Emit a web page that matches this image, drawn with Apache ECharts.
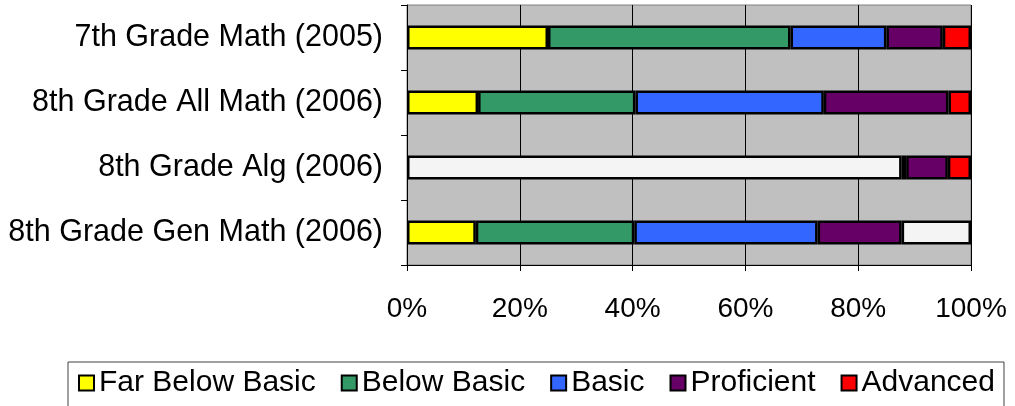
<!DOCTYPE html>
<html lang="en">
<head>
    <meta charset="UTF-8">
    <title>Math results</title>
    <script src="https://cdn.jsdelivr.net/npm/echarts@6/dist/echarts.min.js"></script>
    <style>
        html, body { margin: 0; padding: 0; background: #fff; }
        #main { width: 1015px; height: 406px; }
    </style>
</head>
<body>
<div id="main"></div>
<script>
    var categories = ['7th Grade Math (2005)', '8th Grade All Math (2006)', '8th Grade Alg (2006)', '8th Grade Gen Math (2006)'];
    var tickLabels = ['0%', '20%', '40%', '60%', '80%', '100%'];

    // percent of students per level, null = no segment
    var blankFirst = [null, null, 87.7, null];
    var farBelowBasic = [25, 12.6, null, 12.2];
    var belowBasic = [43, 27.9, null, 28.1];
    var basic = [17, 33.4, 0.8, 32.5];
    var proficient = [10, 22.1, 7.4, 14.9];
    var advanced = [5, 4.0, 4.1, null];
    var blankLast = [null, null, null, 12.3];

    var levels = ['Far Below Basic', 'Below Basic', 'Basic', 'Proficient', 'Advanced'];
    var colors = ['#FFFF00', '#339966', '#3366FF', '#660066', '#FF0000'];
    var values = [farBelowBasic, belowBasic, basic, proficient, advanced];

    function seg(name, data, color) {
        return {
            name: name,
            type: 'bar',
            stack: 'all',
            barWidth: 24,
            data: data,
            itemStyle: { color: color, borderColor: '#000', borderWidth: 2.5 },
            emphasis: { disabled: true }
        };
    }

    var series = [seg('blank1', blankFirst, '#F4F4F4')];
    for (var i = 0; i < levels.length; i++) {
        series.push(seg(levels[i], values[i], colors[i]));
    }
    series.push(seg('blank2', blankLast, '#F4F4F4'));

    var myChart = echarts.init(document.getElementById('main'));
    var option = {
        animation: false,
        textStyle: { fontFamily: 'Liberation Sans, Arial, sans-serif' },
        grid: {
            left: 407,
            right: 44,
            top: 5,
            height: 260,
            show: true,
            backgroundColor: '#C0C0C0',
            borderColor: '#808080',
            borderWidth: 1
        },
        legend: {
            data: levels,
            left: 68,
            top: 362,
            padding: [6, 9, 40, 10],
            borderColor: '#404040',
            borderWidth: 1,
            icon: 'rect',
            itemWidth: 15,
            itemHeight: 15,
            itemGap: 25,
            textStyle: { fontSize: 30, color: '#000' }
        },
        xAxis: {
            type: 'value',
            min: 0,
            max: 100,
            interval: 20,
            axisLine: { show: true, lineStyle: { color: '#000', width: 1 } },
            axisTick: { show: true, length: 6, lineStyle: { color: '#000' } },
            axisLabel: {
                fontSize: 28,
                color: '#000',
                margin: 30,
                formatter: function (v) { return tickLabels[v / 20]; }
            },
            splitLine: { show: true, lineStyle: { color: '#000', width: 1 } }
        },
        yAxis: {
            type: 'category',
            inverse: true,
            data: categories,
            axisLine: { show: true, lineStyle: { color: '#000', width: 1 } },
            axisTick: { show: true, length: 6, lineStyle: { color: '#000' } },
            axisLabel: { fontSize: 30.5, color: '#000', margin: 24 }
        },
        series: series
    };
    myChart.setOption(option);
</script>
</body>
</html>
